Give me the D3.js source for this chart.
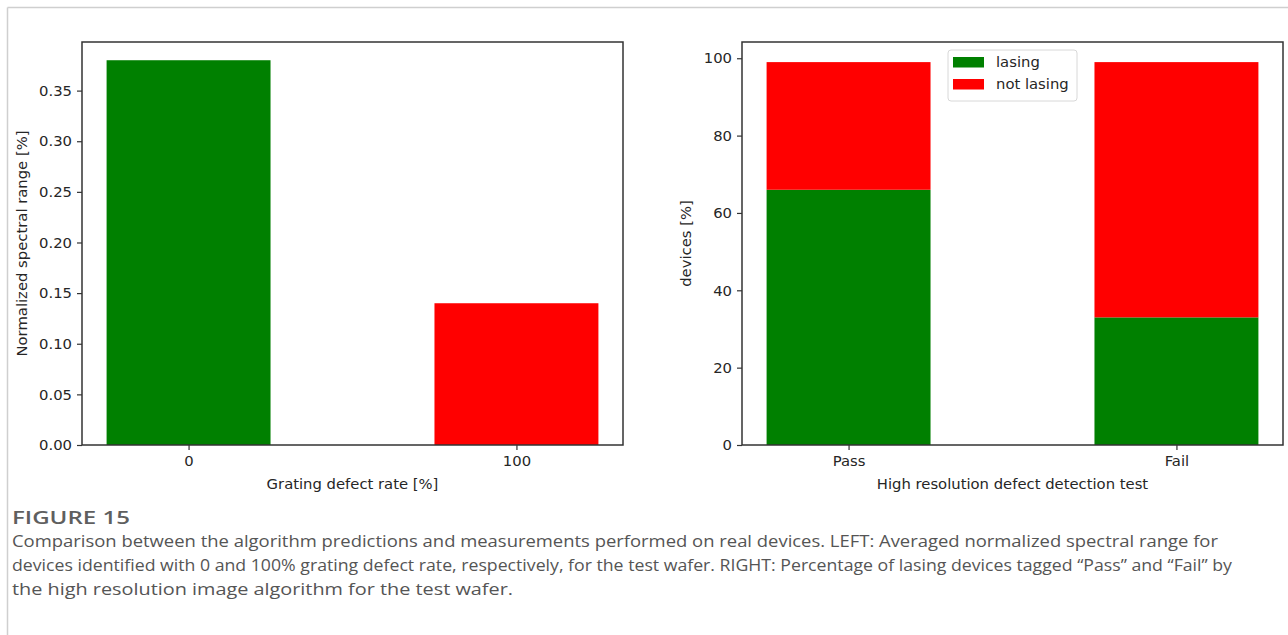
<!DOCTYPE html>
<html>
<head>
<meta charset="utf-8">
<script src="https://cdn.jsdelivr.net/npm/d3@7"></script>
<style>
  html, body { margin: 0; padding: 0; background: #fff; }
  svg { display: block; }
</style>
</head>
<body>
<svg id="chart" width="1288" height="635"></svg>
<script>
// ---- data ----
const leftCategories = ["0", "100"];
const leftValues = [0.38, 0.14];
const leftColors = ["#008000", "#ff0000"];
const leftTicks = [0.00, 0.05, 0.10, 0.15, 0.20, 0.25, 0.30, 0.35];

const rightCategories = ["Pass", "Fail"];
const seriesNames = ["lasing", "not lasing"];
const lasingValues = [66, 33];
const notLasingValues = [33, 66];
const seriesColors = ["#008000", "#ff0000"];
const rightTicks = [0, 20, 40, 60, 80, 100];

const captionTitle = "FIGURE 15";
const captionLines = [
  "Comparison between the algorithm predictions and measurements performed on real devices. LEFT: Averaged normalized spectral range for",
  "devices identified with 0 and 100% grating defect rate, respectively, for the test wafer. RIGHT: Percentage of lasing devices tagged \u201cPass\u201d and \u201cFail\u201d by",
  "the high resolution image algorithm for the test wafer."
];
const captionWidths = [1206, 1220, 501];

// ---- layout ----
const svg = d3.select("#chart");
const FONT = "'DejaVu Sans', sans-serif";
const TICK_FS = 14.8;
const axisColor = "#333";
const textColor = "#262626";

// frame
svg.append("line").attr("x1", 7.5).attr("x2", 1288).attr("y1", 7.5).attr("y2", 7.5)
  .attr("stroke", "#cfcfcf").attr("stroke-width", 1.5);
svg.append("line").attr("x1", 7.5).attr("x2", 7.5).attr("y1", 7.5).attr("y2", 635)
  .attr("stroke", "#cfcfcf").attr("stroke-width", 1.5);

const plotTop = 42, plotBottom = 445;

function styleAxis(g) {
  g.selectAll("path").remove();
  g.selectAll("line").attr("stroke", axisColor).attr("stroke-width", 1.2);
  g.selectAll("text").attr("font-family", FONT).attr("font-size", TICK_FS).attr("fill", textColor);
}

function frameBox(x0, x1) {
  svg.append("rect").attr("x", x0).attr("y", plotTop).attr("width", x1 - x0).attr("height", plotBottom - plotTop)
    .attr("fill", "none").attr("stroke", axisColor).attr("stroke-width", 1.5);
}

// ---- left chart ----
{
  const x0 = 82, x1 = 623;
  const x = d3.scaleLinear().domain([-0.325, 1.325]).range([x0, x1]);
  const y = d3.scaleLinear().domain([0, 0.398]).range([plotBottom, plotTop]);
  const bw = x(0.5) - x(0);
  svg.append("g").selectAll("rect").data(leftValues).join("rect")
    .attr("x", (d, i) => x(i) - bw / 2)
    .attr("width", bw)
    .attr("y", d => y(d))
    .attr("height", d => y(0) - y(d))
    .attr("fill", (d, i) => leftColors[i]);

  const gy = svg.append("g").attr("transform", `translate(${x0},0)`)
    .call(d3.axisLeft(y).tickValues(leftTicks).tickFormat(d3.format(".2f")).tickSize(5).tickPadding(5));
  styleAxis(gy);
  const gx = svg.append("g").attr("transform", `translate(0,${plotBottom})`)
    .call(d3.axisBottom(x).tickValues([0, 1]).tickFormat((d, i) => leftCategories[i]).tickSize(5).tickPadding(5));
  styleAxis(gx);
  frameBox(x0, x1);

  svg.append("text").attr("x", (x0 + x1) / 2).attr("y", 489)
    .attr("text-anchor", "middle").attr("font-family", FONT).attr("font-size", TICK_FS).attr("fill", textColor)
    .text("Grating defect rate [%]");
  svg.append("text").attr("transform", `translate(27,${(plotTop + plotBottom) / 2}) rotate(-90)`)
    .attr("text-anchor", "middle").attr("font-family", FONT).attr("font-size", TICK_FS).attr("fill", textColor)
    .text("Normalized spectral range [%]");
}

// ---- right chart ----
{
  const x0 = 742, x1 = 1283;
  const x = d3.scaleLinear().domain([-0.325, 1.325]).range([x0, x1]);
  const y = d3.scaleLinear().domain([0, 104.2]).range([plotBottom, plotTop]);
  const bw = x(0.5) - x(0);
  const table = rightCategories.map((c, i) => ({ cat: i, "lasing": lasingValues[i], "not lasing": notLasingValues[i] }));
  const stacked = d3.stack().keys(seriesNames)(table);
  svg.append("g").selectAll("g").data(stacked).join("g")
    .attr("fill", (d, i) => seriesColors[i])
    .selectAll("rect").data(d => d).join("rect")
    .attr("x", d => x(d.data.cat) - bw / 2)
    .attr("width", bw)
    .attr("y", d => y(d[1]))
    .attr("height", d => y(d[0]) - y(d[1]));

  const gy = svg.append("g").attr("transform", `translate(${x0},0)`)
    .call(d3.axisLeft(y).tickValues(rightTicks).tickSize(5).tickPadding(5));
  styleAxis(gy);
  const gx = svg.append("g").attr("transform", `translate(0,${plotBottom})`)
    .call(d3.axisBottom(x).tickValues([0, 1]).tickFormat((d, i) => rightCategories[i]).tickSize(5).tickPadding(5));
  styleAxis(gx);
  frameBox(x0, x1);

  svg.append("text").attr("x", (x0 + x1) / 2).attr("y", 489)
    .attr("text-anchor", "middle").attr("font-family", FONT).attr("font-size", TICK_FS).attr("fill", textColor)
    .text("High resolution defect detection test");
  svg.append("text").attr("transform", `translate(691,${(plotTop + plotBottom) / 2}) rotate(-90)`)
    .attr("text-anchor", "middle").attr("font-family", FONT).attr("font-size", TICK_FS).attr("fill", textColor)
    .text("devices [%]");

  // legend
  const lg = svg.append("g").attr("transform", "translate(948,50)");
  lg.append("rect").attr("x", 0).attr("y", 0).attr("width", 129).attr("height", 51).attr("rx", 3)
    .attr("fill", "#fff").attr("stroke", "#d8d8d8").attr("stroke-width", 1);
  seriesNames.forEach((s, i) => {
    lg.append("rect").attr("x", 5).attr("y", 7 + i * 22).attr("width", 31).attr("height", 10.5)
      .attr("fill", seriesColors[i]);
    lg.append("text").attr("x", 48).attr("y", 17 + i * 22)
      .attr("font-family", FONT).attr("font-size", TICK_FS).attr("fill", textColor).text(s);
  });
}

// ---- caption ----
const CAP_FONT = "'Open Sans', sans-serif";
svg.append("text").attr("x", 12).attr("y", 524)
  .attr("font-family", CAP_FONT).attr("font-size", 18).attr("font-weight", 600).attr("fill", "#5f5f5f")
  .attr("textLength", 118).attr("lengthAdjust", "spacingAndGlyphs")
  .text(captionTitle);
captionLines.forEach((t, i) => {
  svg.append("text").attr("x", 12).attr("y", 547 + i * 24)
    .attr("font-family", CAP_FONT).attr("font-size", 16.5).attr("fill", "#555")
    .attr("textLength", captionWidths[i]).attr("lengthAdjust", "spacingAndGlyphs")
    .text(t);
});
</script>
</body>
</html>
